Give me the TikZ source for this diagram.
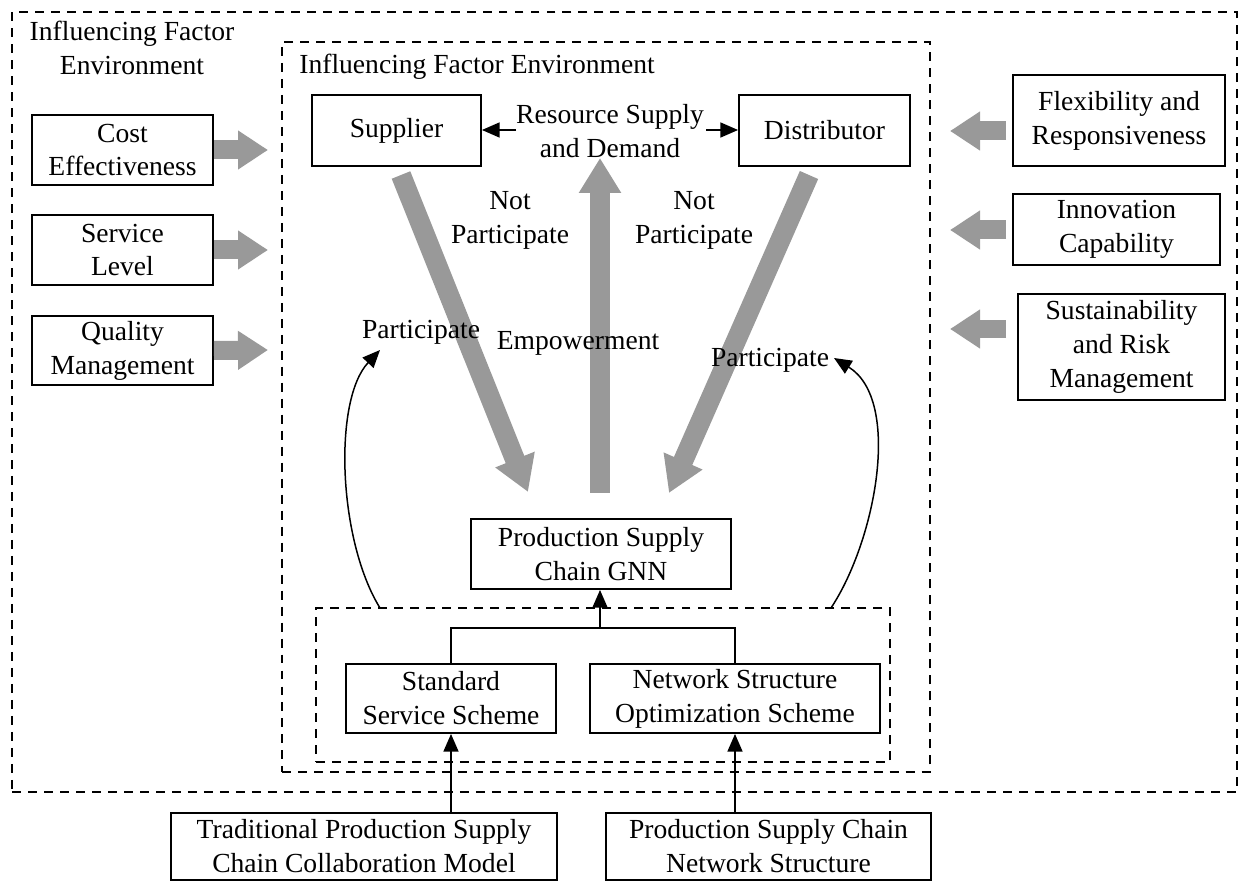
\documentclass[tikz,border=0pt]{standalone}
\usepackage{fontspec}
\setmainfont{Liberation Serif}
\usetikzlibrary{arrows.meta}
\definecolor{arrgray}{RGB}{153,153,153}
\begin{document}
\begin{tikzpicture}[x=0.02cm,y=-0.02cm,
  font=\fontsize{15.7pt}{19.3pt}\selectfont,
  box/.style={draw, line width=1.1pt, align=center, inner sep=0pt},
  dbox/.style={draw, line width=1.1pt, dash pattern=on 5.1pt off 4pt},
  lbl/.style={align=center, inner sep=0pt},
  blk/.style={line width=0.85pt, -{Triangle[length=10pt,width=8.5pt]}},
  fat/.style={draw=arrgray, line width=0.4cm, -{Triangle[length=0.7cm,width=0.8cm]}},
  side/.style={draw=arrgray, line width=0.38cm, -{Triangle[length=0.6cm,width=0.74cm]}}]
\useasboundingbox (0,0) rectangle (1242,885);
% dashed frames
\node[dbox, minimum width=24.5cm, minimum height=15.6cm, inner sep=0pt] (outer) at (624.5,402) {};
\node[dbox, minimum width=12.96cm, minimum height=14.6cm, inner sep=0pt] (inner) at (606,407) {};
\node[dbox, minimum width=11.48cm, minimum height=3.08cm, inner sep=0pt] (grp) at (603,685) {};
% titles
\node[lbl] (t1) at (132,48) {Influencing Factor\\Environment};
\node[lbl, anchor=base west] (t2) at (299,74) {Influencing Factor Environment};
% left factor boxes
\node[box, minimum width=3.62cm, minimum height=1.4cm] (cost) at (122.5,150) {Cost\\Effectiveness};
\node[box, minimum width=3.62cm, minimum height=1.4cm] (serv) at (122.5,250) {Service\\Level};
\node[box, minimum width=3.62cm, minimum height=1.38cm] (qual) at (122.5,350.5) {Quality\\Management};
% right factor boxes
\node[box, minimum width=4.24cm, minimum height=1.82cm] (flex) at (1119,120.5) {Flexibility and\\Responsiveness};
\node[box, minimum width=4.14cm, minimum height=1.42cm] (innov) at (1116.5,229.5) {Innovation\\Capability};
\node[box, minimum width=4.14cm, minimum height=2.12cm] (sust) at (1121.5,347) {Sustainability\\and Risk\\Management};
% side gray arrows
\coordinate (cA) at (268,150);
\coordinate (sA) at (268,250);
\coordinate (qA) at (268,350);
\draw[side] (cost.east) -- (cA);
\draw[side] (serv.east) -- (sA);
\draw[side] (qual.east) -- (qA);
\coordinate (fS) at (1006,131);
\coordinate (fT) at (950,131);
\coordinate (iS) at (1006,230);
\coordinate (iT) at (950,230);
\coordinate (uS) at (1006,329);
\coordinate (uT) at (950,329);
\draw[side] (fS) -- (fT);
\draw[side] (iS) -- (iT);
\draw[side] (uS) -- (uT);
% supplier / distributor
\node[box, minimum width=3.38cm, minimum height=1.42cm] (sup) at (396.5,130.5) {Supplier};
\node[box, minimum width=3.42cm, minimum height=1.42cm] (dis) at (824.5,130.5) {Distributor};
\node[lbl] (res) at (610,131) {Resource Supply\\and Demand};
\coordinate (rL) at (516,130);
\coordinate (rR) at (706,130);
\draw[blk] (rL) -- (sup.east |- rL);
\draw[blk] (rR) -- (dis.west |- rR);
% big gray arrows
\coordinate (a1s) at (401,175);
\coordinate (a1t) at (528,492);
\coordinate (a2s) at (600,493);
\coordinate (a2t) at (600,158);
\coordinate (a3s) at (809,175);
\coordinate (a3t) at (669,493);
\draw[fat] (a1s) -- (a1t);
\draw[fat] (a2s) -- (a2t);
\draw[fat] (a3s) -- (a3t);
% labels
\node[lbl] (np1) at (510,220) {Not\\Participate};
\node[lbl] (np2) at (694,220) {Not\\Participate};
\node[lbl] (p1) at (421,332) {Participate};
\node[lbl] (emp) at (578,343) {Empowerment};
\node[lbl] (p2) at (770,360) {Participate};
% GNN and schemes
\node[box, minimum width=5.2cm, minimum height=1.4cm] (gnn) at (601,554) {Production Supply\\Chain GNN};
\node[box, minimum width=4.2cm, minimum height=1.38cm] (std) at (451,698.5) {Standard\\Service Scheme};
\node[box, minimum width=5.8cm, minimum height=1.38cm] (net) at (735,698.5) {Network Structure\\Optimization Scheme};
\coordinate (J) at (600,628);
\draw[line width=0.85pt] (std.north) |- (J) -| (net.north);
\draw[blk] (J) -- (gnn.south -| J);
% curved participate arrows
\coordinate (cL) at (380,608);
\coordinate (cLt) at (380,350);
\coordinate (cR) at (831,608);
\coordinate (cRt) at (834,358);
\draw[blk] (cL) .. controls (338,540) and (333,400) .. (cLt);
\draw[blk] (cR) .. controls (876,540) and (902,400) .. (cRt);
% bottom boxes
\node[box, minimum width=7.72cm, minimum height=1.34cm] (trad) at (364,846.5) {Traditional Production Supply\\Chain Collaboration Model};
\node[box, minimum width=6.5cm, minimum height=1.34cm] (pscn) at (768.5,846.5) {Production Supply Chain\\Network Structure};
\draw[blk] (trad.north -| std.south) -- (std.south);
\draw[blk] (pscn.north -| net.south) -- (net.south);
\end{tikzpicture}
\end{document}
